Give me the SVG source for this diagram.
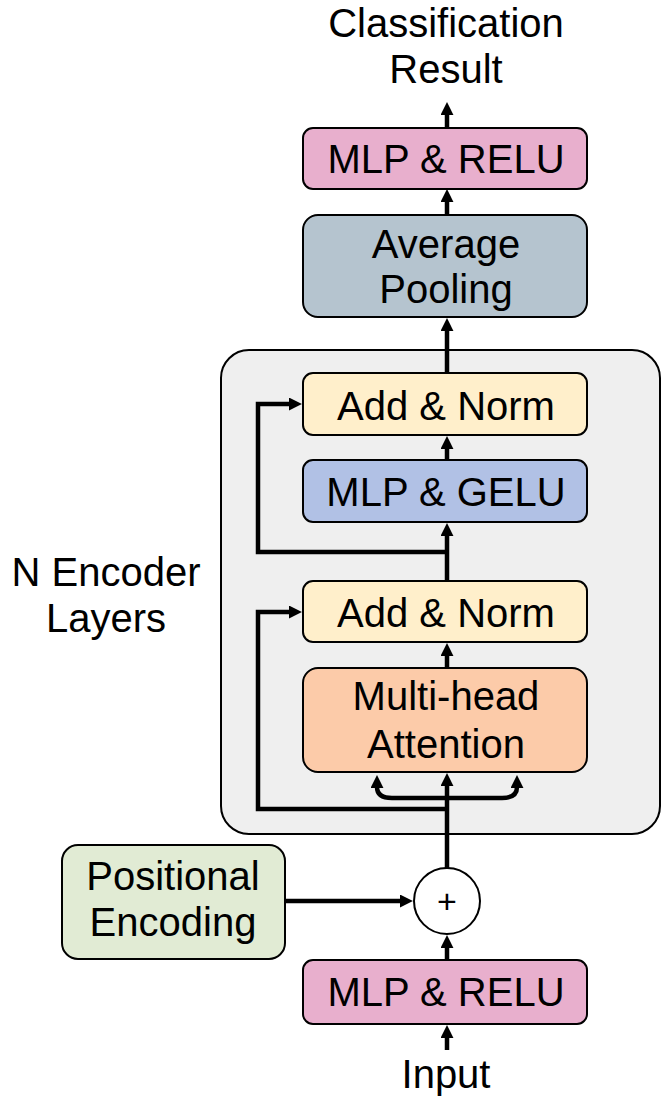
<svg xmlns="http://www.w3.org/2000/svg" width="662" height="1097" viewBox="0 0 662 1097">
  <style>
    .box { stroke: #000; stroke-width: 2; }
    .lbl { font-family: "Liberation Sans", Arial, sans-serif; font-size: 40px; fill: #000; text-anchor: middle; }
    .wire { fill: none; stroke: #000; stroke-width: 4.5; }
    .relu { fill: #E8AFCD; }
    .pool { fill: #B5C4CF; }
    .norm { fill: #FFEFCB; }
    .gelu { fill: #B1C1E5; }
    .attn { fill: #FCCBA9; }
    .pos  { fill: #E1EBD4; }
  </style>
  <defs>
    <marker id="ah" viewBox="0 0 12 12" refX="1" refY="6" markerWidth="13" markerHeight="13" markerUnits="userSpaceOnUse" orient="auto">
      <path d="M0,0 L12,6 L0,12 z" fill="#000"/>
    </marker>
  </defs>

  <!-- encoder stack container -->
  <g id="encoder">
    <rect x="221" y="350" width="439" height="484" rx="28" fill="#EFEFEF" stroke="#000" stroke-width="2"/>
    <text class="lbl" x="106" y="586">N Encoder</text>
    <text class="lbl" x="106" y="632">Layers</text>
  </g>

  <g id="output-label">
    <text class="lbl" x="446" y="37">Classification</text>
    <text class="lbl" x="446" y="83">Result</text>
  </g>

  <g id="mlp-relu-top">
    <rect class="box relu" x="303" y="128" width="284" height="61" rx="10"/>
    <text class="lbl" x="446" y="173">MLP &amp; RELU</text>
  </g>

  <g id="avg-pool">
    <rect class="box pool" x="303" y="215" width="284" height="102" rx="15"/>
    <text class="lbl" x="446" y="258">Average</text>
    <text class="lbl" x="446" y="303">Pooling</text>
  </g>

  <g id="add-norm-2">
    <rect class="box norm" x="303" y="373" width="284" height="62" rx="10"/>
    <text class="lbl" x="446" y="420">Add &amp; Norm</text>
  </g>

  <g id="mlp-gelu">
    <rect class="box gelu" x="303" y="460" width="284" height="62" rx="10"/>
    <text class="lbl" x="446" y="506">MLP &amp; GELU</text>
  </g>

  <g id="add-norm-1">
    <rect class="box norm" x="303" y="581" width="284" height="61" rx="10"/>
    <text class="lbl" x="446" y="627">Add &amp; Norm</text>
  </g>

  <g id="attention">
    <rect class="box attn" x="303" y="668" width="284" height="104" rx="15"/>
    <text class="lbl" x="446" y="710">Multi-head</text>
    <text class="lbl" x="446" y="758">Attention</text>
  </g>

  <g id="pos-enc">
    <rect class="box pos" x="62" y="845" width="223" height="114" rx="16"/>
    <text class="lbl" x="173" y="890">Positional</text>
    <text class="lbl" x="173" y="936">Encoding</text>
  </g>

  <g id="sum">
    <circle cx="447" cy="901" r="33" fill="#FFF" stroke="#000" stroke-width="2"/>
    <text class="lbl" x="447" y="913" style="font-size:34px">+</text>
  </g>

  <g id="mlp-relu-bottom">
    <rect class="box relu" x="303" y="960" width="284" height="64" rx="10"/>
    <text class="lbl" x="446" y="1006">MLP &amp; RELU</text>
  </g>

  <g id="input-label">
    <text class="lbl" x="446" y="1088">Input</text>
  </g>

  <g id="connectors">
    <path class="wire" d="M447,128 V114" marker-end="url(#ah)"/>
    <path class="wire" d="M447,215 V201" marker-end="url(#ah)"/>
    <path class="wire" d="M447,373 V330" marker-end="url(#ah)"/>
    <path class="wire" d="M447,460 V448" marker-end="url(#ah)"/>
    <path class="wire" d="M447,581 V535" marker-end="url(#ah)"/>
    <path class="wire" d="M447,552 H258 V404 H290" marker-end="url(#ah)"/>
    <path class="wire" d="M447,668 V655" marker-end="url(#ah)"/>
    <path class="wire" d="M447,868 V785" marker-end="url(#ah)"/>
    <path class="wire" d="M447,809 H258 V612 H290" marker-end="url(#ah)"/>
    <path class="wire" d="M447,798 H392 Q377,798 377,787" marker-end="url(#ah)"/>
    <path class="wire" d="M447,798 H502 Q517,798 517,787" marker-end="url(#ah)"/>
    <path class="wire" d="M285,901 H401" marker-end="url(#ah)"/>
    <path class="wire" d="M447,960 V947" marker-end="url(#ah)"/>
    <path class="wire" d="M447,1050 V1037" marker-end="url(#ah)"/>
  </g>
</svg>
